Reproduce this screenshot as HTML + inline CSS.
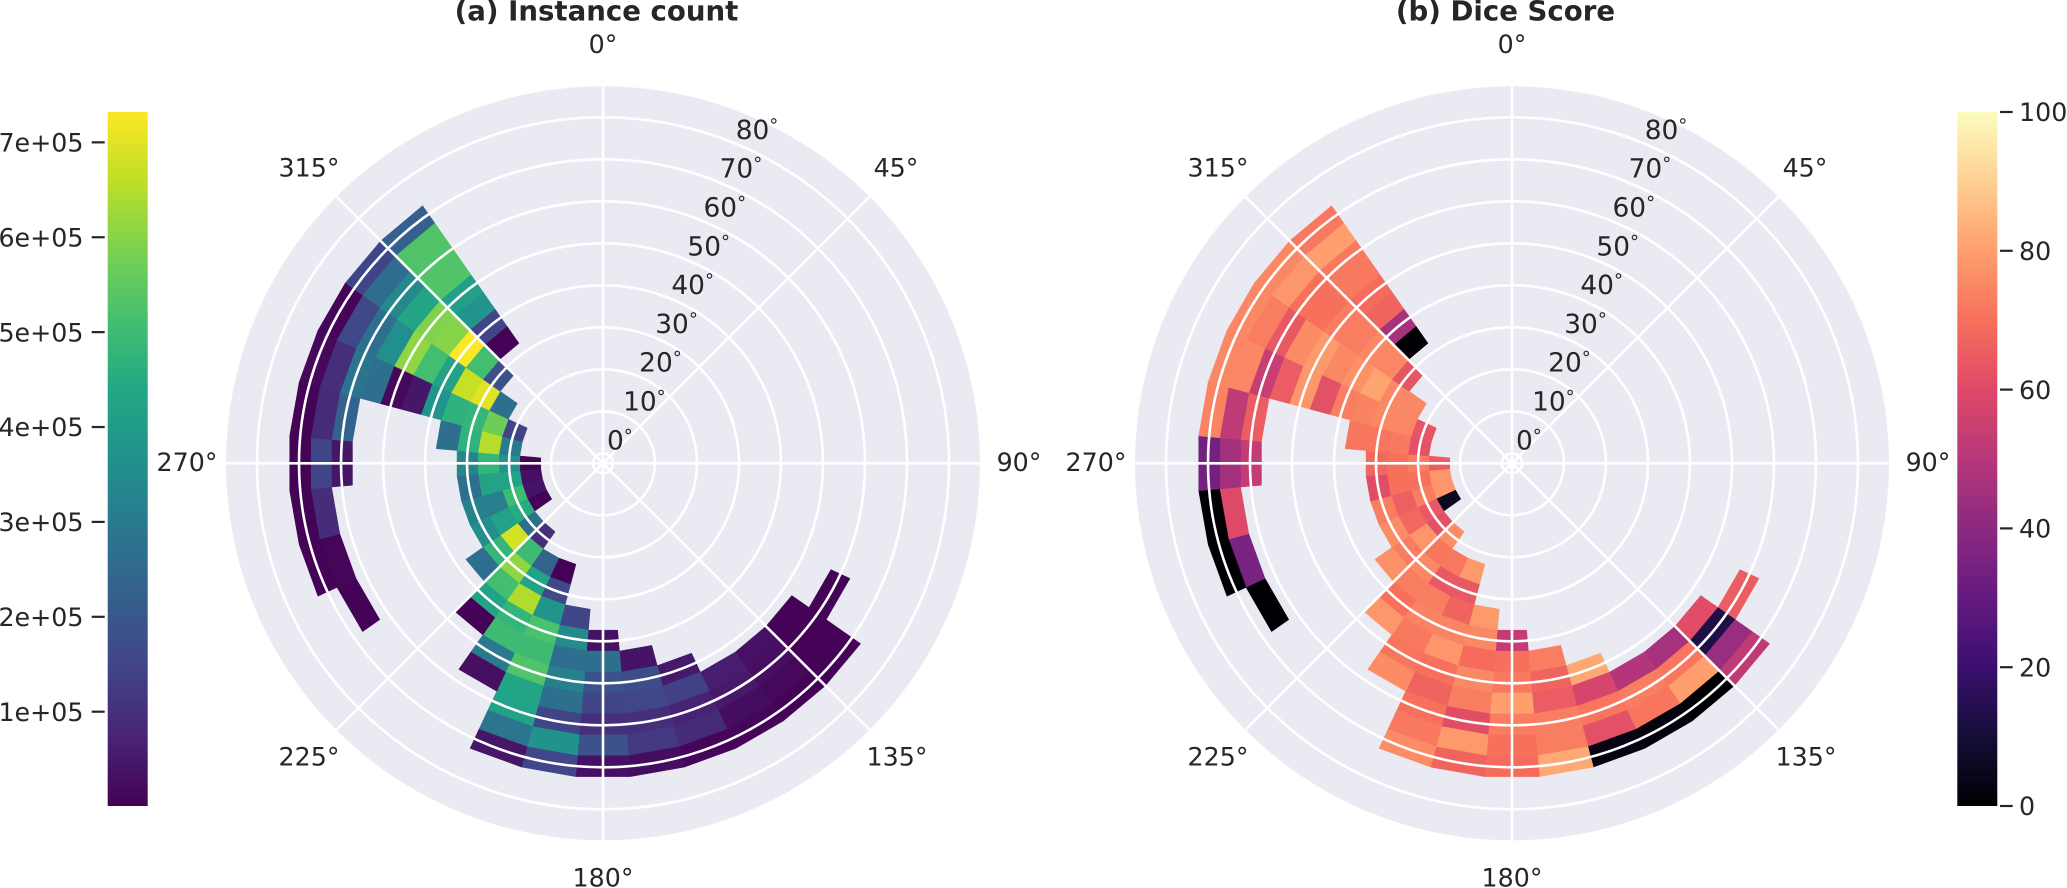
<!DOCTYPE html>
<html lang="en">
<head>
<meta charset="utf-8">
<title>Instance count and Dice score polar heatmaps</title>
<style>
  html, body { margin: 0; padding: 0; background: #fff; }
  body { width: 2067px; height: 888px; overflow: hidden; }
  svg { display: block; font-family: "DejaVu Sans", "Liberation Sans", sans-serif; text-rendering: geometricPrecision; }
</style>
</head>
<body>
<svg id="chart" xmlns="http://www.w3.org/2000/svg" width="2067" height="888" viewBox="0 0 2067 888">
  <defs>
    <linearGradient id="viridis-gradient" x1="0" y1="1" x2="0" y2="0"></linearGradient>
    <linearGradient id="magma-gradient" x1="0" y1="1" x2="0" y2="0"></linearGradient>
  </defs>
  <g id="panel-a"></g>
  <g id="panel-b"></g>
  <g id="bar-a"></g>
  <g id="bar-b"></g>
</svg>
<script>
const _ = null;

// Azimuth bin centres (degrees, clockwise from north) and elevation bin centres (degrees)
const azimuthBins = [120,130,140,150,160,170,180,190,200,210,220,230,240,250,260,270,280,290,300,310,320];
const elevationBins = [15,20,25,30,35,40,45,50,55,60,65,70];

// Instance counts in units of 1e5: one row per elevation bin, one column per azimuth bin
const instanceCounts = [
  [_,_,_,_,_,_,_,_,_,_,_,_,0.05,0.4,0.3,0.1,_,_,_,_,_],
  [_,_,_,_,_,_,_,_,_,_,1.0,2.7,4.5,5.0,4.2,3.7,3.0,1.5,_,_,_],
  [_,_,_,_,_,_,_,_,0.05,2.3,5.0,6.85,4.2,3.1,4.25,4.8,6.5,5.7,2.7,_,_],
  [_,_,_,_,_,_,_,_,1.6,4.2,6.1,4.8,3.6,3.2,2.7,3.3,4.7,4.8,7.0,1.8,_],
  [_,_,_,_,_,_,_,1.5,3.75,6.45,5.1,2.65,_,_,_,_,2.65,4.7,6.7,5.1,0.05],
  [_,_,_,_,_,_,0.35,3.5,5.2,4.8,4.25,_,_,_,_,_,_,3.8,4.2,7.3,1.5],
  [_,_,_,_,_,0.4,2.7,2.65,5.0,5.0,0.05,_,_,_,_,_,_,0.45,5.1,6.0,3.8],
  [_,_,_,_,0.5,1.75,1.9,3.2,5.3,2.95,_,_,_,_,_,_,_,0.15,6.1,5.9,4.15],
  [_,0.05,0.35,0.6,1.4,1.55,1.5,2.7,4.3,0.3,_,_,_,_,_,_,_,2.65,3.6,4.3,5.3],
  [0.05,0.05,0.3,0.5,0.7,1.0,1.0,1.5,4.2,_,_,_,_,_,_,0.45,2.3,2.8,2.7,3.4,5.3],
  [_,0.05,0.15,0.25,0.9,1.2,1.85,3.7,2.85,_,_,_,0.05,0.1,0.95,1.5,0.9,1.0,1.6,2.6,5.3],
  [_,0.05,0.05,0.1,0.1,0.25,0.35,1.55,0.45,_,_,_,_,0.05,0.05,0.05,0.05,0.15,0.1,1.5,2.2]
];

// Dice scores (0-100): same layout as instanceCounts
const diceScores = [
  [_,_,_,_,_,_,_,_,_,_,_,_,6,78,78,65,_,_,_,_,_],
  [_,_,_,_,_,_,_,_,_,_,76,62,64,73,70,73,62,63,_,_,_],
  [_,_,_,_,_,_,_,_,79,72,71,78,68,66,70,70,72,75,75,_,_],
  [_,_,_,_,_,_,_,_,64,64,75,73,76,73,61,68,71,75,75,63,_],
  [_,_,_,_,_,_,_,79,67,73,73,77,_,_,_,_,71,74,81,75,0],
  [_,_,_,_,_,_,53,75,74,74,70,_,_,_,_,_,_,73,77,75,46],
  [_,_,_,_,_,73,70,69,78,72,78,_,_,_,_,_,_,62,75,73,67],
  [_,_,_,_,82,67,72,75,70,71,_,_,_,_,_,_,_,78,79,73,69],
  [_,61,46,49,58,65,80,73,67,76,_,_,_,_,_,_,_,65,76,70,72],
  [65,13,71,73,71,73,73,61,70,_,_,_,_,_,_,53,65,54,64,70,72],
  [_,43,80,71,62,73,70,79,72,_,_,_,0,35,60,45,52,75,73,78,80],
  [_,52,0,2,3,82,69,67,76,_,_,_,_,0,0,34,74,75,75,75,72]
];

// Grid and tick labels
const angleTicks = [0,45,90,135,180,225,270,315];
const angleTickLabels = ["0°","45°","90°","135°","180°","225°","270°","315°"];
const elevationTicks = [0,10,20,30,40,50,60,70,80];
const countBarTicks = [1,2,3,4,5,6,7];
const countBarTickLabels = ["1e+05","2e+05","3e+05","4e+05","5e+05","6e+05","7e+05"];
const diceBarTicks = [0,20,40,60,80,100];
const diceBarTickLabels = ["0","20","40","60","80","100"];

// Colormap anchor colours
const viridisStops = ["#440154","#482475","#414487","#355f8d","#2a788e","#21918c","#22a884","#44bf70","#7ad151","#bddf26","#fde725"];
const magmaStops = ["#000004","#140e36","#3b0f70","#641a80","#8c2981","#b73779","#de4968","#f7705c","#fe9f6d","#fecf92","#fcfdbf"];

const SVG_NS = "http://www.w3.org/2000/svg";
const CENTER_Y = 463.3;
const OUTER_RADIUS = 377;
const INK = "#262626";
const FONT_SIZE = 25.3;
const BAR_TOP = 112;
const BAR_HEIGHT = 694;

// Axis functions
function radiusScale(elevation) { return 10 + 4.2 * elevation; }
function polarPoint(cx, azimuth, elevation) {
  const a = azimuth * Math.PI / 180;
  const r = radiusScale(elevation);
  return [cx + r * Math.sin(a), CENTER_Y - r * Math.cos(a)];
}
function countColorbarY(v) { return BAR_TOP + BAR_HEIGHT - (v - 0.006) / (7.32 - 0.006) * BAR_HEIGHT; }
function diceColorbarY(v) { return BAR_TOP + BAR_HEIGHT - v / 100 * BAR_HEIGHT; }

function hexToRgb(h) {
  return [parseInt(h.slice(1,3),16), parseInt(h.slice(3,5),16), parseInt(h.slice(5,7),16)];
}
function sampleColormap(stops, t) {
  const c = Math.max(0, Math.min(1, t)) * (stops.length - 1);
  const i = Math.min(Math.floor(c), stops.length - 2);
  const f = c - i;
  const a = hexToRgb(stops[i]), b = hexToRgb(stops[i + 1]);
  return "rgb(" + a.map(function (x, k) { return Math.round(x + (b[k] - x) * f); }).join(",") + ")";
}
function svgEl(tag, attrs, parent) {
  const el = document.createElementNS(SVG_NS, tag);
  for (const k in attrs) el.setAttribute(k, attrs[k]);
  parent.appendChild(el);
  return el;
}

function buildGradient(id, stops) {
  const grad = document.getElementById(id);
  stops.forEach(function (c, i) {
    svgEl("stop", { offset: (i / (stops.length - 1)), "stop-color": c }, grad);
  });
}
buildGradient("viridis-gradient", viridisStops);
buildGradient("magma-gradient", magmaStops);

function drawPanel(groupId, cx, titleText, matrix, colorOf) {
  const g = document.getElementById(groupId);

  const background = svgEl("circle", { cx: cx, cy: CENTER_Y, r: OUTER_RADIUS, fill: "#eaeaf2" }, g);
  
  

  const cellGroup = svgEl("g", {}, g);
  
  
  elevationBins.forEach(function (el, row) {
    azimuthBins.forEach(function (az, col) {
      const value = matrix[row][col];
      if (value === null) return;
      const corners = [
        polarPoint(cx, az - 5, el - 2.5),
        polarPoint(cx, az + 5, el - 2.5),
        polarPoint(cx, az + 5, el + 2.5),
        polarPoint(cx, az - 5, el + 2.5)
      ];
      const fill = colorOf(value);
      const cell = svgEl("polygon", {
        points: corners.map(function (p) { return p[0].toFixed(2) + "," + p[1].toFixed(2); }).join(" "),
        fill: fill, stroke: fill, "stroke-width": 0.5
      }, cellGroup);
      
      
    });
  });

  const gridGroup = svgEl("g", { fill: "none", stroke: "#ffffff", "stroke-width": 2.6 }, g);
  
  
  elevationTicks.forEach(function (el) {
    const ring = svgEl("circle", { cx: cx, cy: CENTER_Y, r: radiusScale(el) }, gridGroup);
    
    
  });
  angleTicks.forEach(function (a) {
    const rad = a * Math.PI / 180;
    const spoke = svgEl("line", {
      x1: cx, y1: CENTER_Y,
      x2: cx + OUTER_RADIUS * Math.sin(rad),
      y2: CENTER_Y - OUTER_RADIUS * Math.cos(rad)
    }, gridGroup);
    
    
  });

  const angleLabelX = { 0: 0, 45: 293, 90: 416, 135: 294, 180: 0, 225: -294, 270: -416, 315: -294 };
  const angleLabelBase = { 0: 53, 45: 176.5, 90: 471, 135: 765.5, 180: 886.5, 225: 765.5, 270: 471, 315: 176.5 };
  angleTicks.forEach(function (a, i) {
    const t = svgEl("text", {
      x: cx + angleLabelX[a], y: angleLabelBase[a],
      "text-anchor": "middle", "font-size": FONT_SIZE, fill: INK
    }, g);
    t.textContent = angleTickLabels[i];
    
    
  });

  elevationTicks.forEach(function (el) {
    const r = radiusScale(el) - 10;
    const t = svgEl("text", {
      x: cx + 4 + 0.383 * r, y: CENTER_Y - 14 - 0.924 * r,
      "font-size": 26.4, fill: INK
    }, g);
    t.textContent = String(el);
    const deg = svgEl("tspan", { "font-size": 18, dy: -7.5 }, t);
    deg.textContent = "°";
    
    
  });

  const title = svgEl("text", {
    x: cx - 6.5, y: 20.5, "text-anchor": "middle",
    "font-size": 27.6, "font-weight": "bold", fill: INK
  }, g);
  title.textContent = titleText;
  
  
}

function drawColorbar(groupId, x, gradientId, ticks, labels, yOf, side) {
  const g = document.getElementById(groupId);
  const bar = svgEl("rect", { x: x, y: BAR_TOP, width: 40, height: BAR_HEIGHT, fill: "url(#" + gradientId + ")" }, g);
  
  
  ticks.forEach(function (v, i) {
    const y = yOf(v);
    const x1 = side === "left" ? x - 16 : x + 42.7;
    const x2 = side === "left" ? x - 3 : x + 55.4;
    const tick = svgEl("line", { x1: x1, x2: x2, y1: y, y2: y, stroke: INK, "stroke-width": 2.2 }, g);
    
    
    const t = svgEl("text", {
      x: side === "left" ? x - 24.2 : x + 61.7, y: y + 9.2,
      "text-anchor": side === "left" ? "end" : "start",
      "font-size": FONT_SIZE, fill: INK
    }, g);
    t.textContent = labels[i];
    
    
  });
}

drawPanel("panel-a", 603, "(a) Instance count", instanceCounts, function (v) {
  return sampleColormap(viridisStops, (v - 0.006) / (7.32 - 0.006));
});
drawPanel("panel-b", 1512, "(b) Dice Score", diceScores, function (v) {
  return sampleColormap(magmaStops, v / 100);
});
drawColorbar("bar-a", 107.7, "viridis-gradient", countBarTicks, countBarTickLabels, countColorbarY, "left");
drawColorbar("bar-b", 1957.3, "magma-gradient", diceBarTicks, diceBarTickLabels, diceColorbarY, "right");
</script>
</body>
</html>
